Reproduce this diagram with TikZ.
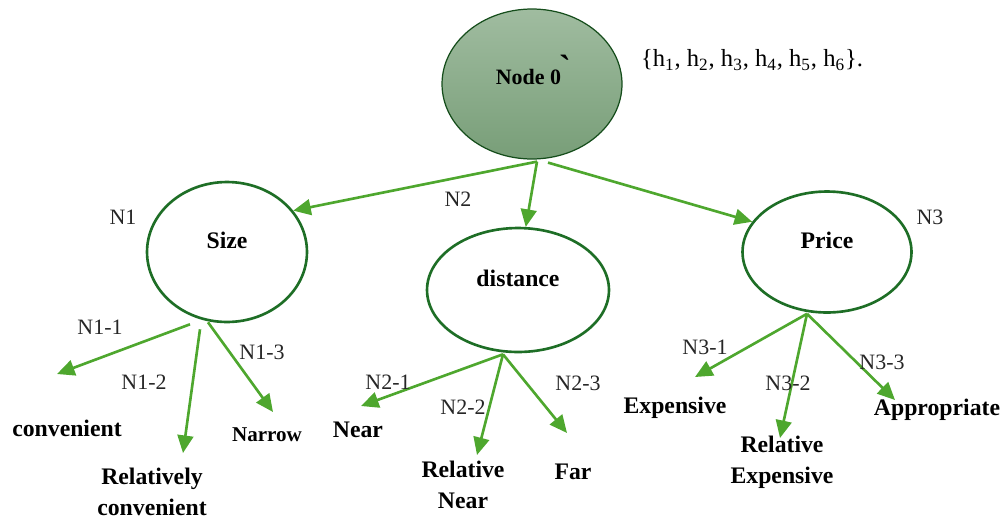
\documentclass[tikz,border=0pt]{standalone}
\usepackage{fontspec}
\setmainfont{Liberation Serif}
\usetikzlibrary{shapes.geometric,arrows.meta}

\definecolor{ringgreen}{RGB}{30,110,38}
\definecolor{arrowgreen}{RGB}{78,167,46}
\definecolor{topgreen}{RGB}{160,188,160}
\definecolor{bottomgreen}{RGB}{120,158,120}

\tikzset{
  attr/.style={ellipse, draw=ringgreen, line width=1.5pt, inner sep=0pt},
  attrtext/.style={yshift=6.5pt, font=\fontsize{13.5}{16}\selectfont\bfseries},
  branch/.style={draw=arrowgreen, line width=1.5pt, -{Triangle[length=10pt,width=9pt]}},
  tag/.style={font=\fontsize{12.5}{14}\selectfont, text=black!85},
  leaf/.style={font=\fontsize{13.5}{17.5}\selectfont\bfseries, align=center}
}

\begin{document}
\begin{tikzpicture}[x=0.02cm, y=-0.02cm]
\useasboundingbox (0,0) rectangle (1000,518);

% root
\node[ellipse, draw=ringgreen!70!black, line width=0.7pt, top color=topgreen, bottom color=bottomgreen,
      minimum width=3.6cm, minimum height=3cm, inner sep=0pt,
      label={[xshift=-2pt, yshift=4pt, font=\fontsize{12.5}{14}\selectfont\bfseries]center:Node 0}] (n0) at (532,84) {};
\node[font=\fontsize{20}{22}\selectfont\bfseries, inner sep=0pt] (grave) at (565,67) {ˋ};
\node[font=\fontsize{14}{16}\selectfont] (hset) at (752,60)
  {\{h\textsubscript{1}, h\textsubscript{2}, h\textsubscript{3}, h\textsubscript{4}, h\textsubscript{5}, h\textsubscript{6}\}.};

% attributes
\node[attr, minimum width=3.2cm, minimum height=2.8cm, label={[attrtext]center:Size}] (size) at (227,252) {};
\node[attr, minimum width=3.64cm, minimum height=2.48cm, label={[attrtext]center:distance}] (dist) at (518,290) {};
\node[attr, minimum width=3.38cm, minimum height=2.42cm, label={[attrtext]center:Price}] (price) at (827,252) {};

\node[tag] (tagn1) at (123,217) {N1};
\node[tag] (tagn2) at (458,199) {N2};
\node[tag] (tagn3) at (930,217) {N3};

\draw[branch] ([shift={(5,2)}]n0.south) -- (size.32);
\draw[branch] ([shift={(5,2)}]n0.south) -- (dist.83);
\draw[branch] ([shift={(16,3)}]n0.south) -- (price.158);

% values
\node[leaf] (conv) at (67,428) {convenient};
\node[leaf] (relconv) at (152,492) {Relatively\\convenient};
\node[leaf, font=\fontsize{12}{14}\selectfont\bfseries] (narrow) at (267,435) {Narrow};
\node[leaf] (near) at (358,430) {Near};
\node[leaf] (relnear) at (463,485) {Relative\\Near};
\node[leaf] (far) at (573,472) {Far};
\node[leaf] (exp) at (675,408) {Expensive};
\node[leaf] (relexp) at (782,462) {Relative\\Expensive};
\node[leaf] (approp) at (937,410) {Appropriate};

\coordinate (t11) at (57,374);
\coordinate (t12) at (183,453);
\coordinate (t13) at (273,412);
\coordinate (t21) at (361,406);
\coordinate (t22) at (477,455);
\coordinate (t23) at (567,433);
\coordinate (t31) at (695,377);
\coordinate (t32) at (780,438);
\coordinate (t33) at (895,400);

\draw[branch] ([shift={(-37,1)}]size.south) -- (t11);
\draw[branch] ([shift={(-27,6)}]size.south) -- (t12);
\draw[branch] ([shift={(-19,-1)}]size.south) -- (t13);
\draw[branch] ([shift={(-15,1)}]dist.south) -- (t21);
\draw[branch] ([shift={(-15,1)}]dist.south) -- (t22);
\draw[branch] ([shift={(-15,1)}]dist.south) -- (t23);
\draw[branch] ([shift={(-20,0)}]price.south) -- (t31);
\draw[branch] ([shift={(-20,0)}]price.south) -- (t32);
\draw[branch] ([shift={(-20,0)}]price.south) -- (t33);

\node[tag] (tag11) at (100,327) {N1-1};
\node[tag] (tag12) at (144,382) {N1-2};
\node[tag] (tag13) at (262,352) {N1-3};
\node[tag] (tag21) at (388,382) {N2-1};
\node[tag] (tag22) at (463,407) {N2-2};
\node[tag] (tag23) at (578,383) {N2-3};
\node[tag] (tag31) at (705,347) {N3-1};
\node[tag] (tag32) at (788,383) {N3-2};
\node[tag] (tag33) at (882,362) {N3-3};
\end{tikzpicture}
\end{document}
